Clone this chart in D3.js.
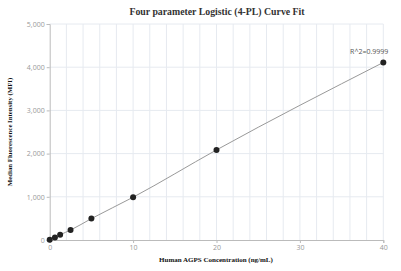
<!DOCTYPE html>
<html>
<head>
<meta charset="utf-8">
<script src="https://d3js.org/d3.v7.min.js"></script>
<style>
  body { margin: 0; background: #fff; }
  svg text { font-family: "Open Sans", "DejaVu Sans", sans-serif; }
</style>
</head>
<body>
<svg id="chart" width="401" height="271"></svg>
<script>
// concentration standards (ng/mL) and measured MFI
const conc = [0, 0.625, 1.25, 2.5, 5, 10, 20, 40];
const mfi = [5, 55, 120, 230, 495, 990, 2085, 4110];
const xTicks = [0, 10, 20, 30, 40];
const yTicks = [0, 1000, 2000, 3000, 4000, 5000];
const r2Label = "R^2=0.9999";

const svg = d3.select("#chart");
const margin = {left: 49.7, right: 17.7, top: 24, bottom: 31};
const W = 401, H = 271;

const x = d3.scaleLinear().domain([0, 40]).range([margin.left, W - margin.right]);
const y = d3.scaleLinear().domain([0, 5000]).range([H - margin.bottom, margin.top]);

// grid
svg.append("g")
  .selectAll("line")
  .data(d3.range(2, 41, 2))
  .join("line")
  .attr("x1", d => x(d)).attr("x2", d => x(d))
  .attr("y1", y(0)).attr("y2", y(5000))
  .attr("stroke", "#e6eaf0").attr("stroke-width", 1);

svg.append("g")
  .selectAll("line")
  .data(yTicks.slice(1))
  .join("line")
  .attr("x1", x(0)).attr("x2", x(40))
  .attr("y1", d => y(d)).attr("y2", d => y(d))
  .attr("stroke", "#e6eaf0").attr("stroke-width", 1);

// axes
const xAxis = svg.append("g")
  .attr("transform", `translate(0,${y(0)})`)
  .call(d3.axisBottom(x).tickValues(xTicks).tickSize(3).tickPadding(2));
const yAxis = svg.append("g")
  .attr("transform", `translate(${x(0)},0)`)
  .call(d3.axisLeft(y).tickValues(yTicks).tickSize(3).tickPadding(2).tickFormat(d3.format(",")));

[xAxis, yAxis].forEach(g => {
  g.select(".domain").attr("stroke", "#bbb");
  g.selectAll(".tick line").attr("stroke", "#bbb");
  g.selectAll(".tick text").attr("fill", "#999").style("font-size", "7px");
});

// fitted curve
svg.append("path")
  .datum(conc.map((c, i) => [c, mfi[i]]))
  .attr("fill", "none")
  .attr("stroke", "#999")
  .attr("stroke-width", 1)
  .attr("d", d3.line().x(d => x(d[0])).y(d => y(d[1])).curve(d3.curveMonotoneX));

// points
svg.append("g")
  .selectAll("circle")
  .data(conc.map((c, i) => [c, mfi[i]]))
  .join("circle")
  .attr("cx", d => x(d[0]))
  .attr("cy", d => y(d[1]))
  .attr("r", 3)
  .attr("fill", "#222");

svg.append("text")
  .attr("x", x(40) + 5)
  .attr("y", y(4110) - 8)
  .attr("text-anchor", "end")
  .attr("fill", "#555")
  .style("font-size", "7px")
  .text(r2Label);

// titles
svg.append("text")
  .attr("x", 217).attr("y", 14.5)
  .attr("text-anchor", "middle")
  .style("font-family", "'Liberation Serif', serif")
  .style("font-weight", "bold")
  .style("font-size", "9.8px")
  .attr("fill", "#333")
  .text("Four parameter Logistic (4-PL) Curve Fit");

svg.append("text")
  .attr("x", 216).attr("y", 262)
  .attr("text-anchor", "middle")
  .style("font-family", "'Liberation Serif', serif")
  .style("font-weight", "bold")
  .style("font-size", "7px")
  .attr("fill", "#111")
  .text("Human AGPS Concentration (ng/mL)");

svg.append("text")
  .attr("transform", `translate(12,${(y(0) + y(5000)) / 2}) rotate(-90)`)
  .attr("text-anchor", "middle")
  .style("font-family", "'Liberation Serif', serif")
  .style("font-weight", "bold")
  .style("font-size", "6.8px")
  .attr("fill", "#111")
  .text("Median Fluorescence Intensity (MFI)");
</script>
</body>
</html>
